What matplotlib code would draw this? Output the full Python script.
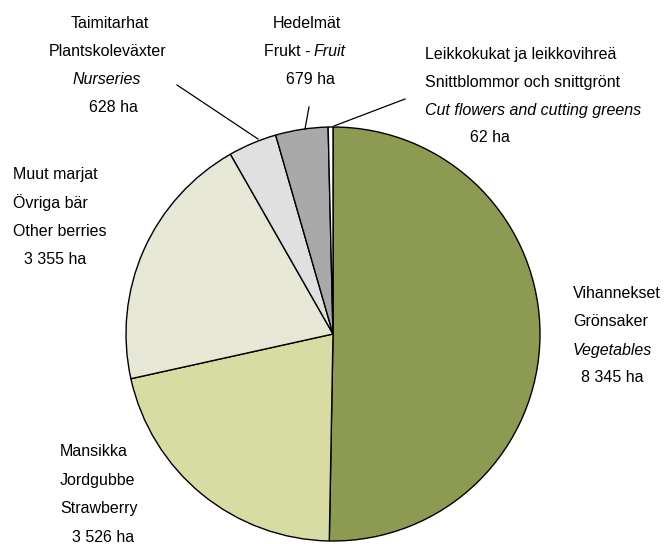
import matplotlib
matplotlib.use("Agg")
import matplotlib.pyplot as plt

# Puutarhatuotanto pinta-alat (ha)
names = ["Vihannekset", "Mansikka", "Muut marjat", "Taimitarhat", "Hedelmät", "Leikkokukat"]
areas = [8345, 3526, 3355, 628, 679, 62]
colors = ["#8c9a52", "#d7dca3", "#e6e8d5", "#dfe0df", "#a9a9a9", "#ffffff"]

plt.rcParams['font.family'] = ['Liberation Sans', 'DejaVu Sans']
FS = 11.5

W, H = 664, 544
fig = plt.figure(figsize=(W / 100, H / 100), dpi=100)
ax = fig.add_axes([0, 0, 1, 1])

ax.pie(areas, colors=colors, startangle=90, counterclock=False,
       center=(333, H - 334), radius=207,
       wedgeprops=dict(edgecolor='black', linewidth=1.0))

# pie() resets the limits, so set them afterwards
ax.set_xlim(0, W)
ax.set_ylim(0, H)
ax.set_aspect('equal')
ax.axis('off')


def fmt(v):
    return "{:,}".format(v).replace(",", " ") + " ha"


def txt(x, ypix, s, ha='left', italic=False):
    ax.text(x, H - ypix, s, ha=ha, va='center', fontsize=FS,
            style='italic' if italic else 'normal')


def leader(x0, y0, x1, y1):
    ax.plot([x0, x1], [H - y0, H - y1], color='black', lw=0.9)


# Vihannekset
txt(573, 293, "Vihannekset")
txt(573, 322, "Grönsaker")
txt(573, 350, "Vegetables", italic=True)
txt(612, 378, fmt(areas[0]), ha='center')

# Mansikka
txt(60, 452, "Mansikka")
txt(60, 481, "Jordgubbe")
txt(60, 509, "Strawberry")
txt(103, 537, fmt(areas[1]), ha='center')

# Muut marjat
txt(13, 175, "Muut marjat")
txt(13, 203, "Övriga bär")
txt(13, 232, "Other berries")
txt(55, 260, fmt(areas[2]), ha='center')

# Taimitarhat
txt(110, 23, "Taimitarhat", ha='center')
txt(108, 52, "Plantskoleväxter", ha='center')
txt(107, 79, "Nurseries", ha='center', italic=True)
txt(113, 107, fmt(areas[3]), ha='center')
leader(177, 85, 258, 139)

# Hedelmät
txt(307, 23, "Hedelmät", ha='center')
txt(311, 52, "Frukt -", ha='right')
txt(314, 52, "Fruit", italic=True)
txt(310, 79, fmt(areas[4]), ha='center')
leader(309, 107, 305, 129)

# Leikkokukat
txt(425, 55, "Leikkokukat ja leikkovihreä")
txt(425, 82, "Snittblommor och snittgrönt")
txt(425, 110, "Cut flowers and cutting greens", italic=True)
txt(490, 137, fmt(areas[5]), ha='center')
leader(405, 99, 334, 126)

fig.savefig("out.png", dpi=100)
